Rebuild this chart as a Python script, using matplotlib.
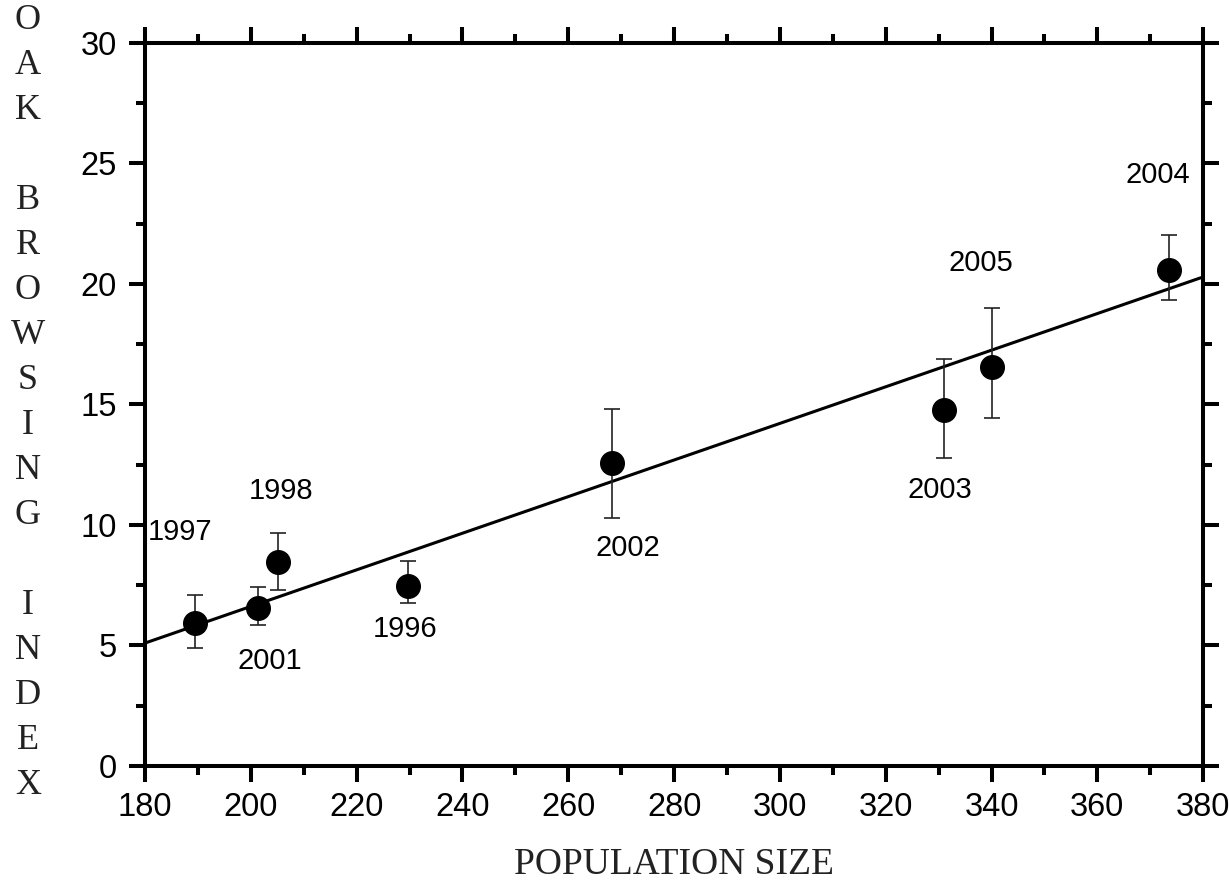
import matplotlib
matplotlib.use("Agg")
import matplotlib.pyplot as plt
import numpy as np
from matplotlib.ticker import MultipleLocator

# ---- data ----
years = ["1997", "2001", "1998", "1996", "2002", "2003", "2005", "2004"]
population = [189.4, 201.4, 205.2, 229.7, 268.3, 331.0, 340.1, 373.6]
browsing = [5.93, 6.56, 8.46, 7.47, 12.57, 14.77, 16.56, 20.58]
err_low = [1.03, 0.71, 1.16, 0.71, 2.28, 1.99, 2.12, 1.24]
err_high = [1.17, 0.87, 1.21, 1.04, 2.24, 2.12, 2.44, 1.45]

# label positions (data coords) for the year annotations
label_x = [186.6, 203.6, 205.7, 229.1, 271.3, 330.3, 338.0, 371.5]
label_y = [9.71, 4.36, 11.40, 5.68, 9.05, 11.45, 20.87, 24.52]

# regression line
fit_slope = 0.07595
fit_intercept = -8.571
x_range = [180, 380]

x_ticks = [180, 200, 220, 240, 260, 280, 300, 320, 340, 360, 380]
y_ticks = [0, 5, 10, 15, 20, 25, 30]

plt.rcParams['font.family'] = ['Liberation Sans', 'DejaVu Sans']

fig = plt.figure(figsize=(12.29, 8.94), dpi=100)
ax = fig.add_axes([0.118, 0.1432, 0.861, 0.8088])

# regression line
xl = np.array(x_range, dtype=float)
ax.plot(xl, fit_slope * xl + fit_intercept, color="black", lw=2.2, zorder=2)

# error bars and points
ax.errorbar(population, browsing, yerr=[err_low, err_high], fmt="none",
            ecolor="#222222", elinewidth=1.2, capsize=6, capthick=1.2, zorder=3)
ax.plot(population, browsing, "o", color="black", ms=17, zorder=4)

for yr, lx, ly in zip(years, label_x, label_y):
    ax.text(lx, ly, yr, ha="center", va="center", fontsize=21, color="black")

ax.set_xlim(x_range)
ax.set_ylim(0, 30)
ax.set_xticks(x_ticks)
ax.set_yticks(y_ticks)
ax.xaxis.set_minor_locator(MultipleLocator(10))
ax.yaxis.set_minor_locator(MultipleLocator(2.5))

ax.tick_params(which="both", direction="out", top=True, right=True,
               labeltop=False, labelright=False, width=2.9, color="black")
ax.tick_params(which="major", length=11.5, labelsize=23.5)
ax.tick_params(axis="y", which="major", pad=9)
ax.tick_params(axis="x", which="major", pad=7)
ax.tick_params(which="minor", length=6.5)
for s in ax.spines.values():
    s.set_linewidth(2.9)

ax.set_xlabel("POPULATION SIZE", family=["Liberation Serif", "DejaVu Serif"],
              fontsize=27, labelpad=18, color="#222222")

ylab = "\n".join(list("OAK") + [""] + list("BROWSING") + [""] + list("INDEX"))
ax.set_ylabel(ylab, family=["Liberation Serif", "DejaVu Serif"], fontsize=26,
              rotation=0, ha="center", va="center", linespacing=1.48,
              color="#222222")
ax.yaxis.set_label_coords(-0.1106, 0.502)

fig.savefig("out.png", dpi=100)
